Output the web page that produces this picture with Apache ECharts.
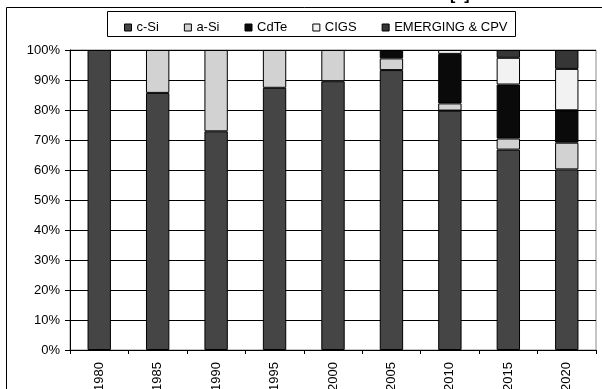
<!DOCTYPE html>
<html>
<head>
<meta charset="utf-8">
<script src="https://cdn.jsdelivr.net/npm/echarts@6/dist/echarts.min.js"></script>
<style>
  html, body { margin: 0; padding: 0; background: #fff; }
  #chart { width: 602px; height: 389px; }
</style>
</head>
<body>
<div id="chart"></div>
<script>
// Market share of PV technologies by year (percent of total)
var years = ['1980', '1985', '1990', '1995', '2000', '2005', '2010', '2015', '2020'];
var cSi      = [100, 85.7, 72.9, 87.4, 89.6, 93.3, 79.8, 66.8, 60.2];
var aSi      = [null, 14.3, 27.1, 12.6, 10.4, 3.9, 2.4, 3.7, 8.9];
var cdTe     = [null, null, null, null, null, 2.8, 16.5, 18.0, 10.8];
var cigs     = [null, null, null, null, null, null, 1.3, 8.9, 13.8];
var emerging = [null, null, null, null, null, null, null, 2.6, 6.3];
var yTicks = [0, 10, 20, 30, 40, 50, 60, 70, 80, 90, 100];

var seriesDefs = [
  { name: 'c-Si', data: cSi, color: '#454545' },
  { name: 'a-Si', data: aSi, color: '#d2d2d2' },
  { name: 'CdTe', data: cdTe, color: '#0a0a0a' },
  { name: 'CIGS', data: cigs, color: '#f2f2f2' },
  { name: 'EMERGING & CPV', data: emerging, color: '#363636' }
];

var chart = echarts.init(document.getElementById('chart'), null, { renderer: 'canvas' });
var font = 'Liberation Sans, Arial, sans-serif';

chart.setOption({
  animation: false,
  textStyle: { fontFamily: font },
  grid: {
    left: 70, right: 6, top: 50, bottom: 39,
    outerBoundsMode: 'none',
    containLabel: false,
    show: true, borderColor: '#8a8a8a', borderWidth: 1, backgroundColor: 'transparent'
  },
  legend: {
    left: 119, top: 16,
    itemWidth: 7, itemHeight: 7, itemGap: 25,
    icon: 'rect',
    itemStyle: { borderColor: '#000', borderWidth: 1 },
    textStyle: { fontFamily: font, fontSize: 13, color: '#000' },
    data: seriesDefs.map(function (s) { return s.name; })
  },
  graphic: [
    { type: 'rect', silent: true, z: 0,
      shape: { x: 6.5, y: 7.5, width: 800, height: 800 },
      style: { fill: null, stroke: '#000', lineWidth: 1 } },
    { type: 'rect', silent: true, z: 0,
      shape: { x: 107.5, y: 11.5, width: 408, height: 25 },
      style: { fill: '#fff', stroke: '#000', lineWidth: 1 } },
    { type: 'text', silent: true, z: 1,
      style: { text: '[1]', x: 450, y: 4, fontSize: 16, fontWeight: 'bold', fontFamily: font,
               fill: '#000', verticalAlign: 'bottom' } }
  ],
  xAxis: {
    type: 'category',
    data: years,
    boundaryGap: true,
    axisLine: { lineStyle: { color: '#000', width: 1 } },
    axisTick: { show: true, length: 4, lineStyle: { color: '#000' } },
    axisLabel: { rotate: 90, margin: 12, fontSize: 13, color: '#000', fontFamily: font },
    splitLine: { show: false }
  },
  yAxis: {
    type: 'value',
    min: 0, max: 100, interval: 10,
    axisLine: { show: true, lineStyle: { color: '#000', width: 1 } },
    axisTick: { show: true, length: 5, lineStyle: { color: '#000' } },
    axisLabel: {
      fontSize: 13, color: '#000', margin: 10, fontFamily: font,
      formatter: function (v) { return yTicks.indexOf(v) >= 0 ? v + '%' : ''; }
    },
    splitLine: { show: true, lineStyle: { color: '#000', width: 1 } }
  },
  series: seriesDefs.map(function (s) {
    return {
      name: s.name,
      type: 'bar',
      stack: 'share',
      barWidth: '40%',
      data: s.data,
      itemStyle: { color: s.color, borderColor: '#000', borderWidth: 1 }
    };
  })
});
</script>
</body>
</html>
